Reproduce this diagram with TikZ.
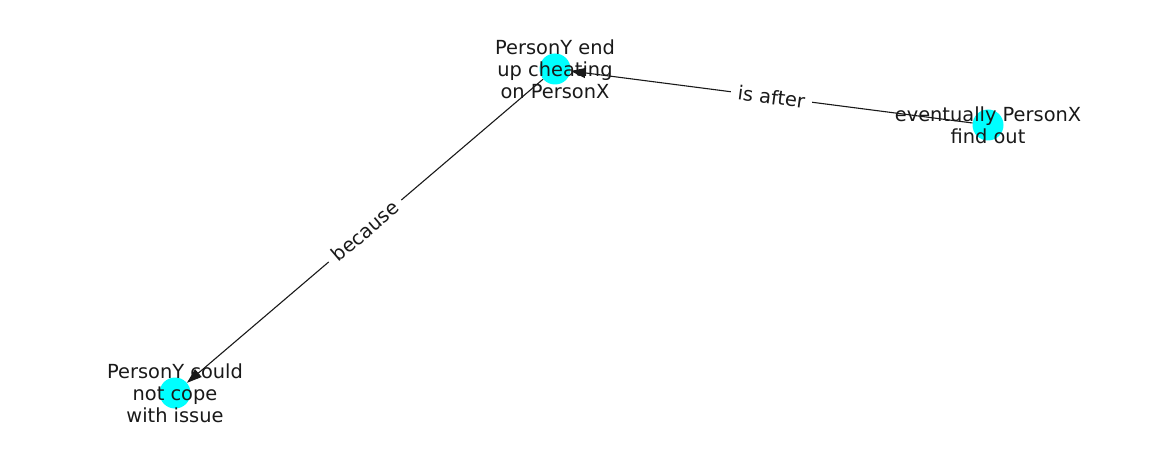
\documentclass[tikz,border=0pt]{standalone}
\usepackage{fontspec}
\setmainfont{DejaVu Sans}
\usetikzlibrary{arrows.meta,calc}
\definecolor{nodecyan}{RGB}{0,255,255}
\begin{document}
\begin{tikzpicture}[x=1pt,y=-1pt,
  vertex/.style={circle,fill=nodecyan,minimum size=31pt,inner sep=0pt},
  vlabel/.style={align=center,inner sep=0pt,font=\fontsize{19.4}{22}\selectfont,text=black!90},
  elabel/.style={fill=white,inner xsep=7pt,inner ysep=4pt,font=\fontsize{19.4}{22}\selectfont,text=black!90},
  link/.style={draw=black!90,line width=1.1pt,-{Triangle[length=15pt,width=10pt]}}]
\useasboundingbox (0,0) rectangle (1162,462);
% vertices
\node[vertex] (a) at (555,69) {};
\node[vertex] (b) at (988,125) {};
\node[vertex] (c) at (175,393) {};
% directed edges
\draw[link] (b) -- (a);
\draw[link] (a) -- (c);
% edge labels, rotated along their edges
\node[elabel,rotate=-7.37] (lab) at ($(a)!0.5!(b)$) {is after};
\node[elabel,rotate=40.45] (lac) at ($(a)!0.5!(c)$) {because};
% vertex labels
\node[vlabel] (ta) at (a) {PersonY end\\up cheating\\on PersonX};
\node[vlabel] (tb) at (b) {eventually PersonX\\find out};
\node[vlabel] (tc) at (c) {PersonY could\\not cope\\with issue};
\end{tikzpicture}
\end{document}
